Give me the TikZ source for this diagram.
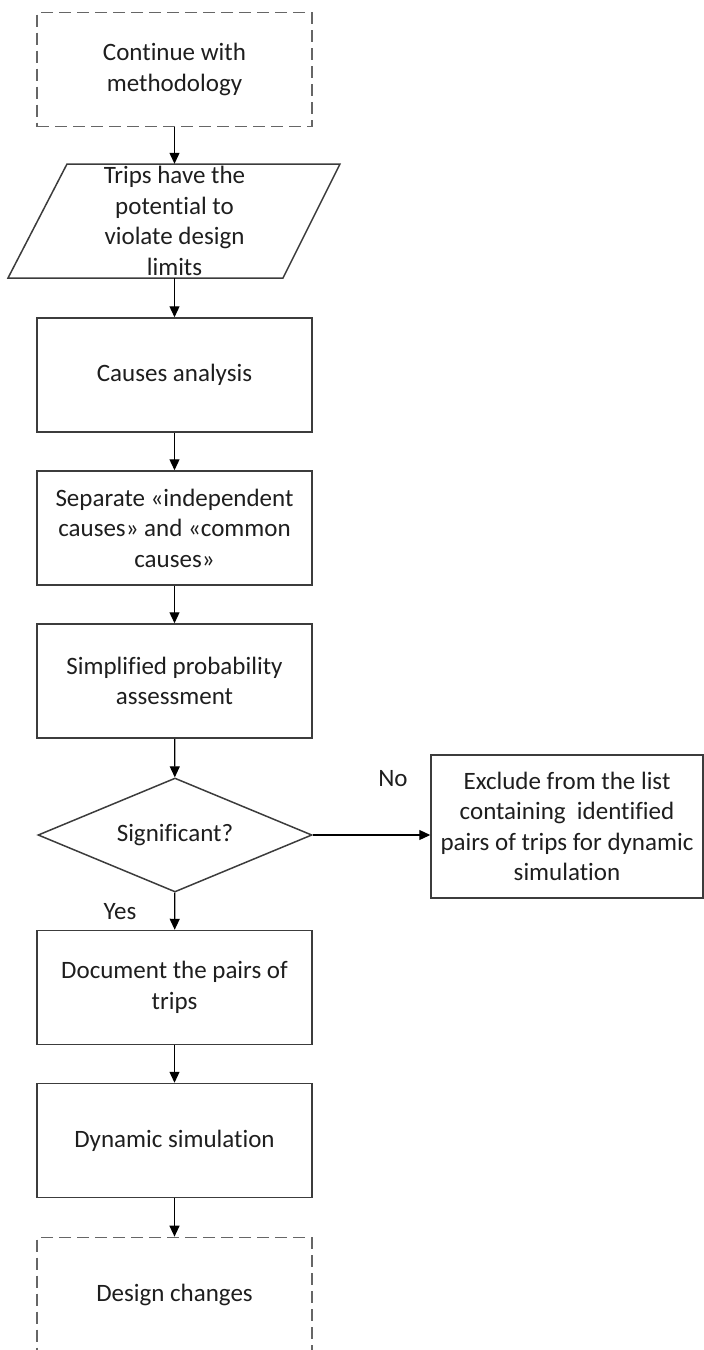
\documentclass[tikz,border=0pt]{standalone}
\usepackage{fontspec}
\setmainfont[Ligatures=NoCommon]{Carlito}
\usetikzlibrary{arrows.meta,shapes.geometric}
\definecolor{ink}{HTML}{1E1E1E}
\definecolor{edge}{HTML}{3C3C3C}
\definecolor{dashgray}{HTML}{666666}

\begin{document}
\begin{tikzpicture}[x=1pt,y=-1pt,
  txt/.style={align=center,text=ink,font=\fontsize{25}{30.5}\selectfont},
  stepbox/.style={txt,draw=edge,line width=1.5pt,rectangle,
    minimum width=275pt,minimum height=114pt,inner sep=0pt},
  termbox/.style={stepbox,draw=dashgray,line width=1.7pt,dash pattern=on 12pt off 6pt},
  decide/.style={txt,draw=edge,line width=1.5pt,diamond,aspect=2.4,
    minimum width=274pt,minimum height=114pt,inner sep=0pt},
  flow/.style={draw=black,line width=1.2pt,-{Triangle[length=11pt,width=10pt]}},
  tag/.style={txt,inner sep=0pt}
]
\clip (0,0) rectangle (704,1350);

% main column
\node[termbox] (start) at (174.5,69.5) {Continue with\\methodology};
\node[txt,minimum width=275pt,minimum height=114pt,inner sep=0pt] (trips) at (174.5,221)
  {Trips have the\\potential to\\violate design\\limits};
\draw[edge,line width=1.5pt] (67,164) -- (340,164) -- (283,278) -- (8,278) -- cycle;
\node[stepbox] (causes) at (174.5,375) {Causes analysis};
\node[stepbox] (sep) at (174.5,528) {Separate «independent\\causes» and «common\\causes»};
\node[stepbox] (prob) at (174.5,681) {Simplified probability\\assessment};
\node[decide] (sig) at (175,835) {Significant?};
\node[stepbox,minimum width=272pt,minimum height=143pt] (excl) at (567,826.5)
  {Exclude from the list\\containing~ identified\\pairs of trips for dynamic\\simulation};
\node[stepbox] (doc) at (174.5,987.5) {Document the pairs of\\trips};
\node[stepbox] (dyn) at (174.5,1140.5) {Dynamic simulation};
\node[termbox] (design) at (174.5,1294.5) {Design changes};

% branch labels
\node[tag] (no) at (393,779) {No};
\node[tag] (yes) at (120,912) {Yes};

% connectors
\draw[flow] (start) -- (trips);
\draw[flow] (trips) -- (causes);
\draw[flow] (causes) -- (sep);
\draw[flow] (sep) -- (prob);
\draw[flow] (prob) -- (sig);
\draw[flow] (sig.east) -- (sig.east -| excl.west);
\draw[flow] (sig) -- (doc);
\draw[flow] (doc) -- (dyn);
\draw[flow] (dyn) -- (design);
\end{tikzpicture}
\end{document}
